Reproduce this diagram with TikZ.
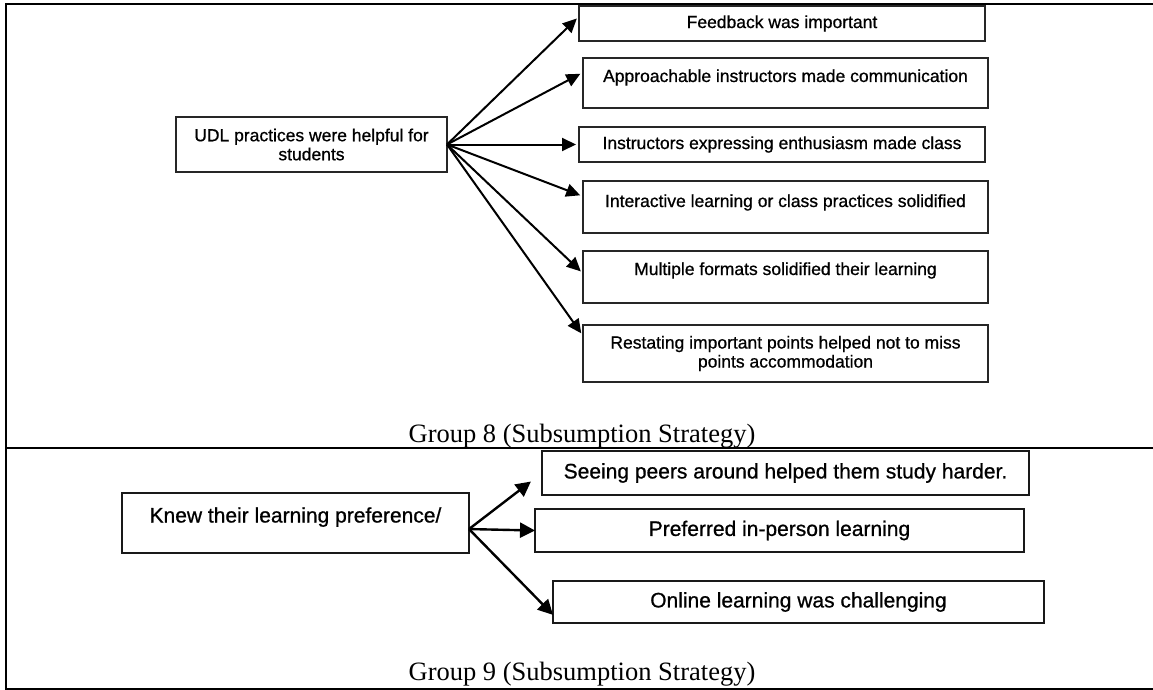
\documentclass[tikz,border=0pt]{standalone}
\usepackage{fontspec}
\setmainfont{Liberation Serif}
\newfontfamily\arialfont[FakeBold=0.8]{Liberation Sans}
\usetikzlibrary{positioning, arrows.meta}

\begin{document}
\begin{tikzpicture}[x=1pt, y=-1pt,
    b/.style={draw=black!85, line width=1.2pt, minimum width=405pt,
              inner sep=2pt, outer sep=0pt, align=center,
              font=\arialfont\fontsize{17.5}{19}\selectfont},
    bb/.style={draw=black!90, line width=1.7pt, inner sep=2pt, outer sep=0pt,
               align=center, font=\arialfont\fontsize{21}{24}\selectfont},
    lift/.style={text height=12pt, text depth=#1},
    arr/.style={-{Triangle[length=14pt,width=13pt]}, line width=2pt, shorten >=3pt},
    arrb/.style={-{Triangle[length=15pt,width=15pt]}, line width=2.4pt},
    grp/.style={anchor=base, font=\fontsize{26.5}{30}\selectfont},
    edgeline/.style={line width=1.8pt}]
  \useasboundingbox (0,0) rectangle (1153,690);
  \draw[edgeline] (1153,4) -- (6,4) -- (6,689) -- (1153,689);
  \draw[edgeline] (6,448) -- (1153,448);

  % Group 8
  \node[b, minimum width=271pt, minimum height=55pt] (udl) at (311.5,144.5)
       {UDL practices were helpful for\\students};
  \node[b, minimum width=406pt, minimum height=35pt] (f1) at (782,23.5)
       {Feedback was important};
  \node[b, minimum height=50pt, lift=14pt] (f2) [below=17pt of f1, xshift=3.5pt]
       {Approachable instructors made communication};
  \node[b, minimum width=406pt, minimum height=35pt] (f3) [below=19pt of f2, xshift=-3.5pt]
       {Instructors expressing enthusiasm made class};
  \node[b, minimum height=52pt, lift=12pt] (f4) [below=19pt of f3, xshift=3.5pt]
       {Interactive learning or class practices solidified};
  \node[b, minimum height=52pt, lift=16pt] (f5) [below=18pt of f4]
       {Multiple formats solidified their learning};
  \node[b, minimum height=57pt] (f6) [below=22pt of f5]
       {Restating important points helped not to miss\\points accommodation};
  \draw[arr] (udl.east) -- (f1.178);
  \draw[arr] (udl.east) -- (f2.177);
  \draw[arr] (udl.east) -- (f3.west);
  \draw[arr] (udl.east) -- (f4.177);
  \draw[arr] (udl.east) -- (f5.179);
  \draw[arr] (udl.east) -- (f6.175);
  \node[grp] (g8) at (582,442) {Group 8 (Subsumption Strategy)};

  % Group 9
  \node[bb, minimum width=347pt, minimum height=60pt, text height=15pt, text depth=16pt]
       (knew) at (295.5,523) {Knew their learning preference/};
  \node[bb, minimum width=487pt, minimum height=44pt] (p1) at (785.5,473)
       {Seeing peers around helped them study harder.};
  \node[bb, minimum width=489pt, minimum height=43pt] (p2) [below=14pt of p1, xshift=-6pt]
       {Preferred in-person learning};
  \node[bb, minimum width=491pt, minimum height=42pt] (p3) [below=29pt of p2, xshift=19pt]
       {Online learning was challenging};
  \draw[arrb, shorten >=14pt] (knew.-2.5) -- (p1.west);
  \draw[arrb] (knew.-2.5) -- (p2.west);
  \draw[arrb] (knew.-2.5) -- (p3.183);
  \node[grp] (g9) at (582,680) {Group 9 (Subsumption Strategy)};
\end{tikzpicture}
\end{document}
